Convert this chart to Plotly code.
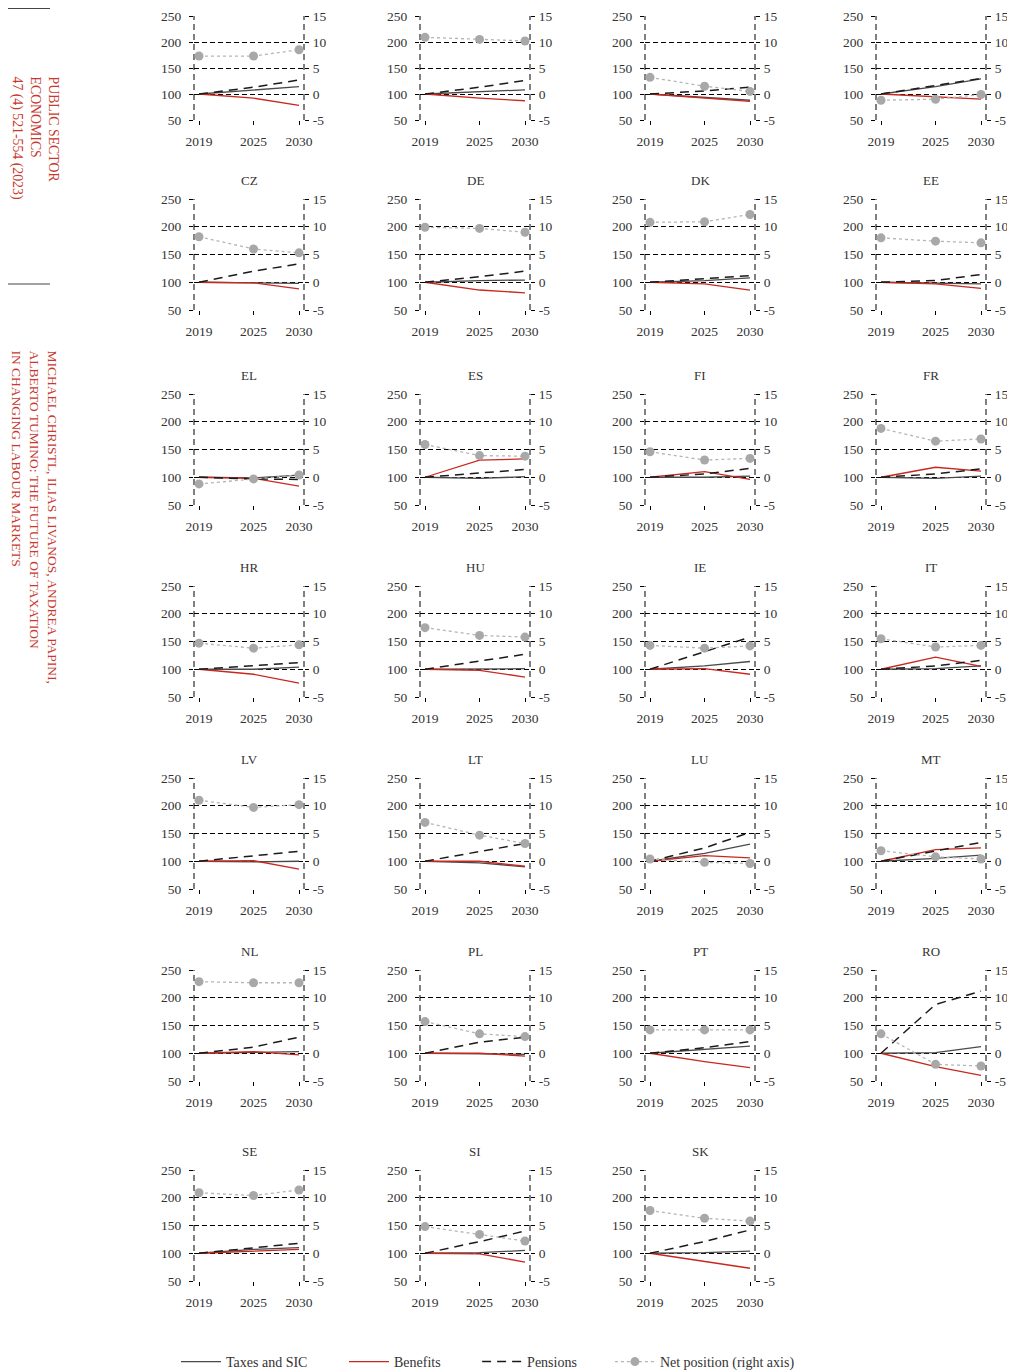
import plotly.graph_objects as go

W, H = 1015, 1371
FONT = "Liberation Serif"

years = [2019, 2025, 2030]
countries = ["AT", "BE", "BG", "CY", "CZ", "DE", "DK", "EE", "EL", "ES", "FI", "FR",
             "HR", "HU", "IE", "IT", "LV", "LT", "LU", "MT", "NL", "PL", "PT", "RO",
             "SE", "SI", "SK"]

# index values (2019 = 100), left axis
taxes = [
    [100, 107, 114], [100, 104, 108], [100, 93, 88], [100, 114, 129],
    [100, 99, 98], [100, 103, 104], [100, 103, 108], [100, 98, 97],
    [100, 99, 104], [100, 98, 101], [100, 100, 102], [100, 98, 102],
    [100, 100, 104], [100, 100, 101], [100, 106, 114], [100, 101, 106],
    [100, 99, 100], [100, 97, 90], [100, 114, 131], [100, 105, 111],
    [100, 102, 103], [100, 99, 98], [100, 107, 113], [100, 101, 112],
    [100, 107, 110], [100, 101, 105], [100, 101, 104],
]
benefits = [
    [100, 92, 78], [100, 92, 87], [100, 92, 86], [100, 94, 90],
    [100, 99, 88], [100, 86, 81], [100, 97, 86], [100, 97, 89],
    [100, 98, 84], [100, 131, 133], [100, 110, 96], [100, 118, 111],
    [100, 91, 75], [100, 98, 86], [100, 101, 91], [100, 122, 105],
    [100, 101, 86], [100, 100, 91], [100, 110, 106], [100, 121, 124],
    [100, 103, 97], [100, 100, 95], [100, 85, 74], [100, 76, 60],
    [100, 104, 107], [100, 99, 84], [100, 86, 73],
]
pensions = [
    [100, 113, 127], [100, 113, 126], [100, 106, 113], [100, 116, 130],
    [100, 120, 133], [100, 110, 120], [100, 106, 112], [100, 103, 114],
    [100, 97, 96], [100, 108, 114], [100, 106, 116], [100, 106, 115],
    [100, 107, 112], [100, 114, 127], [100, 131, 158], [100, 106, 116],
    [100, 110, 118], [100, 118, 132], [100, 124, 152], [100, 118, 134],
    [100, 111, 129], [100, 120, 129], [100, 110, 121], [100, 188, 212],
    [100, 110, 118], [100, 121, 140], [100, 121, 142],
]
# net position, right axis (% points)
net = [
    [7.3, 7.3, 8.5], [10.9, 10.5, 10.2], [3.2, 1.5, 0.5], [-1.2, -1.0, -0.1],
    [8.2, 6.0, 5.3], [9.9, 9.7, 9.0], [10.8, 10.9, 12.2], [8.0, 7.4, 7.1],
    [-1.2, -0.3, 0.4], [5.9, 3.9, 3.8], [4.6, 3.1, 3.4], [8.8, 6.5, 6.9],
    [4.7, 3.8, 4.4], [7.5, 6.1, 5.8], [4.3, 3.8, 4.2], [5.5, 4.0, 4.3],
    [11.0, 9.7, 10.2], [7.0, 4.7, 3.2], [0.4, -0.2, -0.4], [1.9, 0.8, 0.4],
    [12.9, 12.7, 12.7], [5.7, 3.5, 3.0], [4.2, 4.2, 4.2], [3.5, -2.0, -2.3],
    [10.9, 10.4, 11.4], [4.8, 3.4, 2.2], [7.7, 6.3, 5.8],
]

left_ticks = [50, 100, 150, 200, 250]
right_ticks = [-5, 0, 5, 10, 15]
right_ticktext = ["-5", "0", "5", "10", "15"]
legend_names = ["Taxes and SIC", "Benefits", "Pensions", "Net position (right axis)"]

# layout in figure pixels (page has an 8px body margin)
col_left = [186, 412, 637, 868]
row_top = [8, 191, 386, 578, 770, 962, 1162]
row_bottom = [112, 302, 497, 689, 881, 1073, 1273]
box_w = 110

C_TAX = "#4a4a4a"
C_BEN = "#c8281e"
C_PEN = "#1a1a1a"
C_NET_L = "#b5b5b5"
C_NET_M = "#a8a8a8"
TXT = "#333333"
RED_TXT = "#c8382e"
NB = "\u00a0"
pads = [9, 9, 8, 0]


def sfx(n):
    return "" if n == 1 else str(n)


fig = go.Figure()
layout = {}
shapes = []
annotations = []

for i, c in enumerate(countries):
    r, k = divmod(i, 4)
    xn = i + 1
    yl = 2 * i + 1
    yr = 2 * i + 2
    x0 = col_left[k] / W
    x1 = (col_left[k] + box_w) / W
    yt = 1 - row_top[r] / H
    yb = 1 - row_bottom[r] / H
    first = i == 0
    xa, ya, ya2 = "x" + sfx(xn), "y" + sfx(yl), "y" + sfx(yr)

    fig.add_trace(go.Scatter(x=years, y=taxes[i], mode="lines",
                             name=legend_names[0] + NB * pads[0],
                             legendgroup="tax", showlegend=first,
                             line=dict(color=C_TAX, width=1.3),
                             xaxis=xa, yaxis=ya))
    fig.add_trace(go.Scatter(x=years, y=benefits[i], mode="lines",
                             name=legend_names[1] + NB * pads[1],
                             legendgroup="ben", showlegend=first,
                             line=dict(color=C_BEN, width=1.3),
                             xaxis=xa, yaxis=ya))
    fig.add_trace(go.Scatter(x=years, y=pensions[i], mode="lines",
                             name=legend_names[2] + NB * pads[2],
                             legendgroup="pen", showlegend=first,
                             line=dict(color=C_PEN, width=1.5, dash="9px,6px"),
                             xaxis=xa, yaxis=ya))
    fig.add_trace(go.Scatter(x=years, y=net[i], mode="lines+markers",
                             name=legend_names[3],
                             legendgroup="net", showlegend=first,
                             line=dict(color=C_NET_L, width=1.3, dash="3px,3px"),
                             marker=dict(color=C_NET_M, size=9),
                             xaxis=xa, yaxis=ya2))

    tickfont = dict(family=FONT, size=13.5, color=TXT)
    layout["xaxis" + sfx(xn)] = dict(
        domain=[x0, x1], anchor=ya, range=[2018.45, 2030.55],
        tickmode="array", tickvals=years, ticktext=[str(y) for y in years],
        ticks="outside", ticklen=4, tickcolor="#000", showgrid=False,
        zeroline=False, showline=False, tickfont=tickfont, ticklabelstandoff=5,
        automargin=False, fixedrange=True)
    layout["yaxis" + sfx(yl)] = dict(
        domain=[yb, yt], anchor=xa, range=[50, 250],
        tickmode="array", tickvals=left_ticks, ticks="outside", ticklen=4,
        tickcolor="#000", showgrid=True, gridcolor="#000", gridwidth=1,
        griddash="5px,3px", zeroline=False, showline=False, tickfont=tickfont,
        ticklabelstandoff=5, ticklabeloverflow="allow", automargin=False,
        fixedrange=True)
    layout["yaxis" + sfx(yr)] = dict(
        overlaying=ya, anchor=xa, side="right",
        range=[-5, 15], tickmode="array", tickvals=right_ticks,
        ticktext=right_ticktext, ticks="outside",
        ticklen=4, tickcolor="#000", showgrid=False, zeroline=False,
        showline=False, tickfont=tickfont, ticklabelstandoff=1,
        ticklabeloverflow="allow", automargin=False, fixedrange=True)

    for xd in (0, 1):
        shapes.append(dict(type="line", xref=xa + " domain", yref=ya + " domain",
                           x0=xd, x1=xd, y0=0, y1=1,
                           line=dict(color="#000", width=1, dash="6px,4px"),
                           layer="below"))

    if r > 0:
        annotations.append(dict(text=c, xref="paper", yref="paper",
                                x=(x0 + x1) / 2, y=yt + 19 / H, xanchor="center",
                                yanchor="middle", showarrow=False,
                                font=dict(family=FONT, size=13, color=TXT)))

# journal side header
annotations.append(dict(
    text="PUBLIC SECTOR<br>ECONOMICS<br>47 (4) 521-554 (2023)",
    xref="paper", yref="paper", x=0, y=1 - 67 / H, xanchor="left", yanchor="top",
    textangle=90, align="left", showarrow=False, borderpad=0,
    font=dict(family=FONT, size=13.8, color=RED_TXT)))
annotations.append(dict(
    text="MICHAEL CHRISTL, ILIAS LIVANOS, ANDREA PAPINI,<br>ALBERTO TUMINO: THE FUTURE OF TAXATION<br>IN CHANGING LABOUR MARKETS",
    xref="paper", yref="paper", x=0, y=1 - 341 / H, xanchor="left", yanchor="top",
    textangle=90, align="left", showarrow=False, borderpad=0,
    font=dict(family=FONT, size=13.5, color=RED_TXT)))
for yy in (0.5, 276):
    shapes.append(dict(type="line", xref="paper", yref="paper",
                       x0=0, x1=42 / W, y0=1 - yy / H, y1=1 - yy / H,
                       line=dict(color="#444", width=1)))

fig.update_layout(
    width=W, height=H,
    margin=dict(l=0, r=0, t=0, b=0, autoexpand=False),
    paper_bgcolor="white", plot_bgcolor="rgba(0,0,0,0)",
    font=dict(family=FONT, size=13, color=TXT),
    showlegend=True,
    legend=dict(orientation="h", x=168 / W, xanchor="left", y=1 - 1354 / H,
                yanchor="middle", itemwidth=40,
                font=dict(family=FONT, size=14, color=TXT),
                bgcolor="rgba(0,0,0,0)", traceorder="normal"),
    shapes=shapes,
    annotations=annotations,
    **layout,
)

fig.write_html("out.html")
